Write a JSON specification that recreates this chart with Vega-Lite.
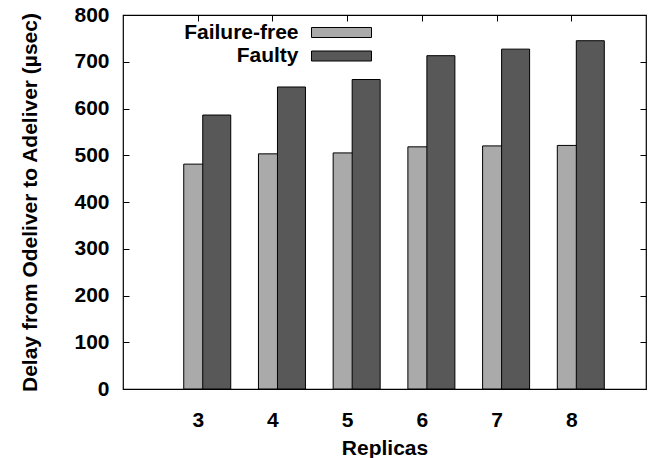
{
  "$schema": "https://vega.github.io/schema/vega-lite/v6.json",
  "width": 523,
  "height": 374,
  "autosize": "none",
  "padding": {"left": 123, "top": 15, "right": 4, "bottom": 69},
  "background": "white",
  "config": {
    "view": {"stroke": "#000000", "strokeWidth": 1.2},
    "font": "Liberation Sans",
    "axis": {
      "domain": false,
      "grid": false,
      "tickSize": -6,
      "tickColor": "#000000",
      "tickWidth": 1,
      "labelFont": "Liberation Sans",
      "labelFontWeight": "bold",
      "labelFontSize": 21,
      "labelColor": "#000000",
      "titleFont": "Liberation Sans",
      "titleFontWeight": "bold",
      "titleFontSize": 21,
      "titleColor": "#000000"
    },
    "legend": {
      "orient": "none",
      "legendX": 208,
      "legendY": 7,
      "padding": 0,
      "title": null,
      "labelFont": "Liberation Sans",
      "labelFontWeight": "bold",
      "labelFontSize": 21,
      "labelColor": "#000000",
      "labelAlign": "right",
      "labelOffset": -53.5,
      "symbolType": "M-6,-1L6,-1L6,1L-6,1Z",
      "symbolSize": 100,
      "symbolStrokeColor": "#000000",
      "symbolStrokeWidth": 1,
      "symbolOpacity": 1,
      "rowPadding": 1.5
    }
  },
  "data": {
    "values": [
      {"replicas": 3, "type": "Failure-free", "delay": 481},
      {"replicas": 4, "type": "Failure-free", "delay": 503},
      {"replicas": 5, "type": "Failure-free", "delay": 505},
      {"replicas": 6, "type": "Failure-free", "delay": 518},
      {"replicas": 7, "type": "Failure-free", "delay": 520},
      {"replicas": 8, "type": "Failure-free", "delay": 521},
      {"replicas": 3, "type": "Faulty", "delay": 586},
      {"replicas": 4, "type": "Faulty", "delay": 646},
      {"replicas": 5, "type": "Faulty", "delay": 662},
      {"replicas": 6, "type": "Faulty", "delay": 713},
      {"replicas": 7, "type": "Faulty", "delay": 727},
      {"replicas": 8, "type": "Faulty", "delay": 745}
    ]
  },
  "encoding": {
    "x": {
      "field": "replicas",
      "type": "ordinal",
      "scale": {"paddingInner": 0.371, "paddingOuter": 0.6855, "align": 0.593}
    },
    "y": {
      "field": "delay",
      "type": "quantitative",
      "scale": {"domain": [0, 800], "nice": false}
    },
    "color": {
      "field": "type",
      "type": "nominal",
      "scale": {"domain": ["Failure-free", "Faulty"], "range": ["#aaaaaa", "#585858"]}
    }
  },
  "layer": [
    {
      "transform": [{"filter": "datum.type === 'Failure-free'"}],
      "mark": {"type": "bar", "stroke": "#000000", "strokeWidth": 1, "opacity": 1, "width": 28, "xOffset": -9.5},
      "encoding": {
        "x": {
          "field": "replicas",
          "type": "ordinal",
          "axis": {"orient": "bottom", "labelAngle": 0, "ticks": false, "labelPadding": 20, "tickOffset": -9.5, "title": "Replicas", "titlePadding": 7}
        },
        "y": {
          "field": "delay",
          "type": "quantitative",
          "axis": {"orient": "left", "values": [0, 100, 200, 300, 400, 500, 600, 700, 800], "labelPadding": 20, "title": "Delay from Odeliver to Adeliver (µsec)", "titlePadding": 33}
        }
      }
    },
    {
      "transform": [{"filter": "datum.type === 'Faulty'"}],
      "mark": {"type": "bar", "stroke": "#000000", "strokeWidth": 1, "opacity": 1, "width": 28, "xOffset": 9.5},
      "encoding": {
        "x": {
          "field": "replicas",
          "type": "ordinal",
          "axis": {"orient": "top", "labels": false, "title": null, "tickOffset": -9.5}
        },
        "y": {
          "field": "delay",
          "type": "quantitative",
          "axis": {"orient": "right", "labels": false, "title": null, "values": [0, 100, 200, 300, 400, 500, 600, 700, 800]}
        }
      }
    }
  ],
  "resolve": {"axis": {"x": "independent", "y": "independent"}}
}
